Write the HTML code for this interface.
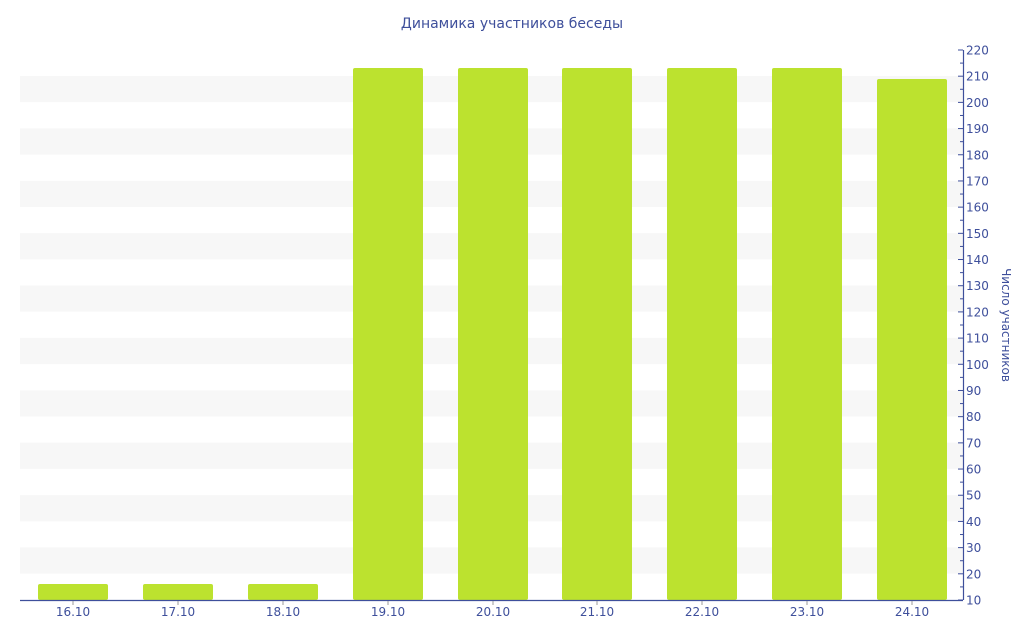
<!DOCTYPE html>
<html><head><meta charset="utf-8"><style>body{margin:0;background:#fff}svg{display:block;font-family:"DejaVu Sans","Liberation Sans",sans-serif}</style></head><body>
<svg width="1024" height="640" xmlns="http://www.w3.org/2000/svg">
<text x="512" y="28" text-anchor="middle" font-size="14" fill="#3e4f9b">Динамика участников беседы</text>
<g fill="#f7f7f7">
<rect x="20" y="76" width="943" height="26.2"/>
<rect x="20" y="128.4" width="943" height="26.2"/>
<rect x="20" y="180.8" width="943" height="26.2"/>
<rect x="20" y="233.1" width="943" height="26.2"/>
<rect x="20" y="285.5" width="943" height="26.2"/>
<rect x="20" y="337.9" width="943" height="26.2"/>
<rect x="20" y="390.3" width="943" height="26.2"/>
<rect x="20" y="442.7" width="943" height="26.2"/>
<rect x="20" y="495.1" width="943" height="26.2"/>
<rect x="20" y="547.4" width="943" height="26.2"/>
</g>
<g fill="#bce22f">
<rect x="38" y="584" width="70" height="16" rx="2"/>
<rect x="143" y="584" width="70" height="16" rx="2"/>
<rect x="248" y="584" width="70" height="16" rx="2"/>
<rect x="353" y="68" width="70" height="532" rx="2"/>
<rect x="458" y="68" width="70" height="532" rx="2"/>
<rect x="562" y="68" width="70" height="532" rx="2"/>
<rect x="667" y="68" width="70" height="532" rx="2"/>
<rect x="772" y="68" width="70" height="532" rx="2"/>
<rect x="877" y="79" width="70" height="521" rx="2"/>
</g>
<line x1="20" y1="600.5" x2="963" y2="600.5" stroke="#3e4f9b" stroke-width="1.2"/>
<line x1="963.5" y1="50" x2="963.5" y2="600" stroke="#3e4f9b" stroke-width="1.2"/>
<g stroke="#999" stroke-width="1">
<line x1="73" y1="601" x2="73" y2="605"/><line x1="178" y1="601" x2="178" y2="605"/><line x1="283" y1="601" x2="283" y2="605"/><line x1="388" y1="601" x2="388" y2="605"/><line x1="493" y1="601" x2="493" y2="605"/><line x1="597" y1="601" x2="597" y2="605"/><line x1="702" y1="601" x2="702" y2="605"/><line x1="807" y1="601" x2="807" y2="605"/><line x1="912" y1="601" x2="912" y2="605"/>
</g>
<g font-size="12" fill="#3e4f9b" text-anchor="middle">
<text x="73" y="616">16.10</text><text x="178" y="616">17.10</text><text x="283" y="616">18.10</text><text x="388" y="616">19.10</text><text x="493" y="616">20.10</text><text x="597" y="616">21.10</text><text x="702" y="616">22.10</text><text x="807" y="616">23.10</text><text x="912" y="616">24.10</text>
</g>
<g id="yt" stroke="#3e4f9b" stroke-width="1"></g>
<g id="yl" font-size="12" fill="#3e4f9b"></g>
<text transform="translate(1002,325) rotate(90)" text-anchor="middle" font-size="12" fill="#3e4f9b">Число участников</text>
<script>
var ns="http://www.w3.org/2000/svg",t=document.getElementById("yt"),l=document.getElementById("yl");
for(var v=10;v<=220;v+=5){var y=600-(v-10)*550/210;var ln=document.createElementNS(ns,"line");var maj=v%10==0;ln.setAttribute("x1",maj?958:960);ln.setAttribute("x2",963);ln.setAttribute("y1",y);ln.setAttribute("y2",y);t.appendChild(ln);
if(maj){var tx=document.createElementNS(ns,"text");tx.setAttribute("x",966);tx.setAttribute("y",y+4.5);tx.textContent=v;l.appendChild(tx);}}
</script>
</svg>
</body></html>
